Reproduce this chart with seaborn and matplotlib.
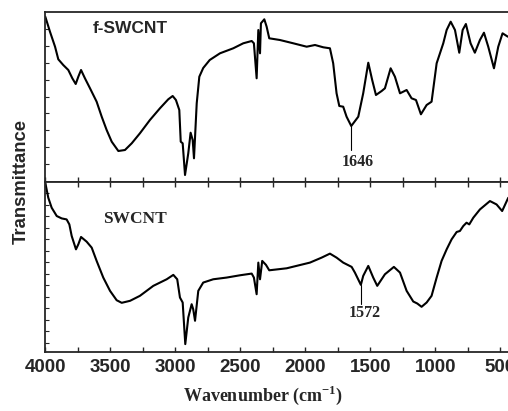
import numpy as np
import pandas as pd
import matplotlib
matplotlib.use("Agg")
import matplotlib.pyplot as plt
from matplotlib.ticker import MultipleLocator, FixedLocator
import seaborn as sns

# ---- data ----
fswcnt_wn = [4000, 3964, 3925, 3900, 3862, 3823, 3792, 3766, 3746, 3725, 3695, 3656,
             3605, 3566, 3528, 3489, 3438, 3387, 3335, 3272, 3195, 3118, 3054, 3020,
             2995, 2969, 2958, 2943, 2925, 2900, 2882, 2866, 2856, 2835, 2815, 2785,
             2735, 2656, 2554, 2477, 2412, 2395, 2374, 2361, 2348, 2341, 2315, 2297,
             2277, 2195, 2092, 1989, 1925, 1861, 1810, 1785, 1759, 1738, 1708, 1682,
             1646, 1592, 1554, 1515, 1485, 1456, 1412, 1387, 1343, 1310, 1271, 1220,
             1182, 1148, 1110, 1066, 1028, 989, 938, 912, 881, 848, 815, 789,
             764, 728, 695, 656, 625, 592, 548, 515, 482, 441]
fswcnt_t = [164.3, 149.3, 134.3, 121.7, 116, 111, 102.7, 97, 104.3, 111, 102.7, 92.7,
            79.3, 64.3, 51, 39.3, 30, 31, 37.7, 47.7, 61, 72.7, 81.7, 85,
            81, 71, 39.3, 37.7, 6, 27.7, 48.3, 41, 22.7, 77.7, 104.3, 113,
            121, 127.7, 132.7, 137.7, 140, 137.7, 102.7, 151, 127.7, 157.7, 161.7, 154.3,
            142.7, 141, 137.7, 134.3, 136, 133.7, 132.7, 117.7, 87.7, 75, 74.3, 64.3,
            55, 64.3, 87.7, 118.3, 101, 86, 90, 92.7, 112.7, 104.3, 87.7, 91,
            82.7, 81, 66.7, 76, 79.3, 117.7, 137.7, 151, 159.3, 151, 128.3, 151,
            157, 137.7, 128.3, 141, 148.3, 134.3, 112.7, 134.3, 147.7, 144.3]

swcnt_wn = [4000, 3977, 3951, 3912, 3874, 3836, 3815, 3797, 3764, 3746, 3725, 3682,
            3643, 3605, 3554, 3502, 3451, 3412, 3348, 3272, 3169, 3066, 3015, 2985,
            2964, 2943, 2923, 2900, 2874, 2862, 2848, 2823, 2785, 2708, 2605, 2502,
            2412, 2395, 2374, 2361, 2348, 2331, 2302, 2277, 2143, 1964, 1874, 1810,
            1759, 1708, 1643, 1618, 1572, 1554, 1515, 1477, 1446, 1387, 1318, 1271,
            1220, 1169, 1138, 1105, 1066, 1028, 989, 951, 912, 874, 835, 810,
            784, 759, 738, 707, 656, 579, 528, 485, 438]
swcnt_t = [169, 154, 144, 135.7, 133.3, 132.3, 127.3, 115.7, 102.3, 107.3, 114.7, 110,
           104, 90.7, 74, 60.7, 51.3, 48.7, 50.7, 55.7, 65.7, 72.3, 76.7, 72.3,
           54, 49, 7.3, 34, 47.3, 42.3, 30.7, 60.7, 69, 72.3, 74, 76.3,
           78, 74, 57.3, 89, 72.3, 90.7, 86.7, 81.3, 83.3, 89, 94, 98,
           94, 89, 84.7, 79, 66.7, 75.7, 85.7, 74, 65.7, 77.3, 84.7, 79,
           60.7, 50, 48, 44.7, 49, 55.7, 74, 90.7, 102.3, 112.3, 119.7, 120.7,
           125.7, 129, 127.3, 134, 142.3, 150.7, 147.3, 140.7, 154]

panel_labels = ["f-SWCNT", "SWCNT"]
peak_labels = ["1646", "1572"]
peak_wn = [1646, 1572]
peak_t = [55, 66.7]
xticks = [4000, 3500, 3000, 2500, 2000, 1500, 1000, 500]

# ---- style ----
sns.set_style("ticks")
plt.rcParams['font.family'] = ['Liberation Sans', 'DejaVu Sans']
plt.rcParams['mathtext.fontset'] = 'custom'
plt.rcParams['mathtext.bf'] = 'Liberation Serif:bold'
plt.rcParams['mathtext.rm'] = 'Liberation Serif:bold'

fig = plt.figure(figsize=(5.08, 4.11), dpi=100)
W, H = 508, 411
left = 45.3 / W
ax_top = fig.add_axes([left, 1 - 181.5 / H, 1 - left, (181.5 - 12) / H])
ax_bot = fig.add_axes([left, 1 - 351.7 / H, 1 - left, (351.7 - 181.5) / H])

df_top = pd.DataFrame({"wn": fswcnt_wn, "t": fswcnt_t})
df_bot = pd.DataFrame({"wn": swcnt_wn, "t": swcnt_t})
sns.lineplot(data=df_top, x="wn", y="t", ax=ax_top, color="black", lw=1.5,
             estimator=None, sort=False)
sns.lineplot(data=df_bot, x="wn", y="t", ax=ax_bot, color="black", lw=1.5,
             estimator=None, sort=False)

for ax in (ax_top, ax_bot):
    ax.set_xlim(4000, 440)
    ax.spines['right'].set_visible(False)
    for s in ('left', 'top', 'bottom'):
        ax.spines[s].set_linewidth(1.3)
    ax.set_xlabel("")
    ax.set_ylabel("")
    ax.xaxis.set_major_locator(FixedLocator(xticks))
    ax.xaxis.set_minor_locator(MultipleLocator(250))

ax_top.set_ylim(-0.5, 169)
ax_bot.set_ylim(-0.3, 170.3)
ax_top.yaxis.set_major_locator(FixedLocator([16.9 * k for k in range(1, 10)]))
ax_bot.yaxis.set_major_locator(FixedLocator([8.7 + 11.54 * k for k in range(14)]))
for ax in (ax_top, ax_bot):
    ax.yaxis.set_minor_locator(FixedLocator([]))
    ax.tick_params(axis='y', which='major', direction='in', length=3, width=0.8,
                   left=True, right=False, labelleft=False)

ax_top.tick_params(axis='x', which='both', direction='in', length=3.5, width=1,
                   top=False, bottom=True, labelbottom=False)
ax_bot.tick_params(axis='x', which='both', direction='in', length=3.5, width=1,
                   top=True, bottom=True, labelbottom=True)
for lab in ax_bot.get_xticklabels():
    lab.set_fontweight('bold')
    lab.set_fontsize(13.5)
    lab.set_family('Liberation Sans')
ax_bot.tick_params(axis='x', pad=5)

# panel labels
ax_top.text(3345, 152.7, panel_labels[0], fontsize=12.5, fontweight='bold',
            family='Liberation Sans', ha='center', va='center')
ax_bot.text(3308, 133, panel_labels[1], fontsize=12.5, fontweight='bold',
            family='Liberation Serif', ha='center', va='center')

# peak annotations
ax_top.plot([peak_wn[0], peak_wn[0]], [peak_t[0], peak_t[0] - 24], color='black', lw=0.8)
ax_top.text(1598, 181 - 161.7, peak_labels[0], fontsize=11.5, fontweight='bold',
            family='Liberation Serif', ha='center', va='center')
ax_bot.plot([peak_wn[1], peak_wn[1]], [peak_t[1], peak_t[1] - 19], color='black', lw=0.8)
ax_bot.text(1545, 352 - 314, peak_labels[1], fontsize=11.5, fontweight='bold',
            family='Liberation Serif', ha='center', va='center')

fig.text(263 / W, 1 - 395 / H, r'Wavenumber (cm$^{\mathbf{-1}}$)',
         fontsize=13, fontweight='bold', family='Liberation Serif',
         ha='center', va='center')
fig.text(21 / W, 1 - 181.5 / H, 'Transmittance', rotation=90, fontsize=13.3,
         fontweight='bold', family='Liberation Sans', ha='center', va='center')

fig.savefig("out.png", dpi=100)
